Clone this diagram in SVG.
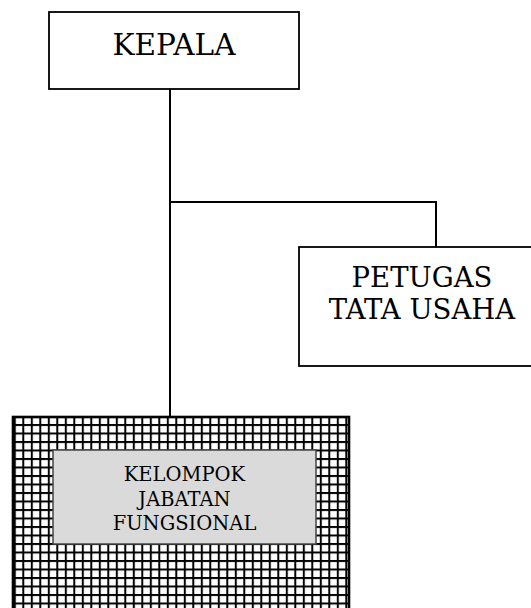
<svg xmlns="http://www.w3.org/2000/svg" width="531" height="608" viewBox="0 0 531 608">
<style>
.box{fill:#fff;stroke:#000;stroke-width:1.8}
.t{font-family:"DejaVu Serif","Liberation Serif",serif;fill:#000;text-anchor:middle}
.c{fill:none;stroke:#000;stroke-width:2}
</style>
<defs>
<pattern id="grid" patternUnits="userSpaceOnUse" x="22.3" y="424" width="8.5" height="8.5">
<rect width="8.5" height="8.5" fill="#fff"/>
<rect x="0" y="0" width="2" height="8.5" fill="#000"/>
<rect x="0" y="0" width="8.5" height="2" fill="#000"/>
</pattern>
</defs>
<g id="connectors">
<path class="c" d="M170 89V417"/>
<path class="c" d="M170 202H436V247"/>
</g>
<g id="kepala">
<rect class="box" x="49" y="12" width="250" height="77"/>
<text class="t" x="174" y="55" font-size="29.5">KEPALA</text>
</g>
<g id="petugas">
<rect class="box" x="299" y="247" width="246" height="119"/>
<text class="t" x="422" y="287" font-size="27.5">PETUGAS</text>
<text class="t" x="422" y="319" font-size="27.5">TATA USAHA</text>
</g>
<g id="kelompok">
<rect x="13" y="417" width="336" height="200" fill="url(#grid)" stroke="#000" stroke-width="2.6"/>
<rect x="53" y="450" width="263" height="94" fill="#dadada" stroke="#444" stroke-width="1.5"/>
<text class="t" x="184.5" y="481" font-size="19.5">KELOMPOK</text>
<text class="t" x="184.5" y="506" font-size="19.5">JABATAN</text>
<text class="t" x="184.5" y="530" font-size="19.5">FUNGSIONAL</text>
</g>
</svg>
